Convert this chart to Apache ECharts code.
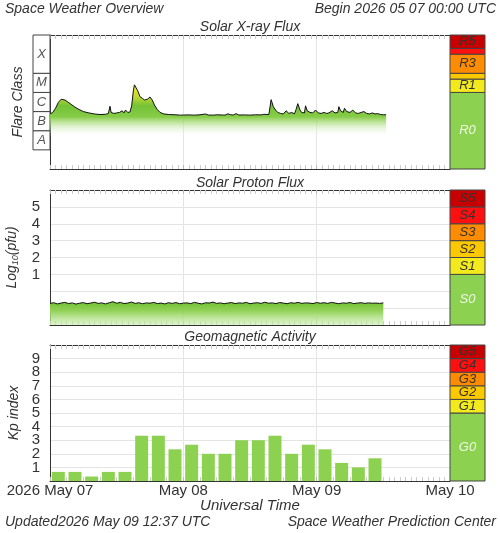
<!DOCTYPE html>
<html><head><meta charset="utf-8">
<script src="https://cdn.jsdelivr.net/npm/echarts@6/dist/echarts.min.js"></script>
<style>html,body{margin:0;background:#fff}#c{width:500px;height:533px}</style>
</head><body><div id="c"></div>
<script>
// ---- data ----
const dayLabels = ['2026 May 07','May 08','May 09','May 10'];
// GOES X-ray flux: hours since start, flux in units of 1e-7 W/m^2
const xrayHours = [0,0.5,1,1.5,2,2.3,2.7,3.2,3.8,4.5,5.2,6,7,8,9,10,10.5,10.8,11,11.5,12,12.5,13,13.3,13.6,14,14.4,14.7,15,15.2,15.5,15.8,16.2,16.6,17,17.3,17.6,18,18.4,18.8,19.3,19.8,20.5,21.5,22.5,23.5,24,25,26,27,28,28.5,29.5,30,31,31.5,32,32.5,33,33.5,34,35,36,37,38,38.5,39.4,39.8,40.2,40.6,41,41.5,42,42.5,43,43.5,44,44.3,44.6,45,45.3,45.8,46,46.3,46.8,47.3,47.8,48.3,48.8,49.3,49.8,50.2,50.8,51.3,51.8,52,52.3,52.8,53,53.4,54,54.5,55,55.5,56,56.5,57,57.5,58,58.5,59,59.5,60,60.5];
const xrayFlux = [7.5,9,15,30,44,46,40,32,24,17,13,10,8.5,7.5,7,7.2,8,19,9,8,8.5,9,11,8.5,12,9,9.5,20,120,250,230,120,60,50,40,38,45,58,40,22,13,9,7.5,7,6.8,6.5,6.6,6.7,6.5,6.8,7.5,6.6,6.5,6.8,6.6,6.5,7.6,6.9,6.6,7.8,6.6,6.7,6.5,6.8,6.7,7.2,7,42,18,12,9,8,7.5,11,8,9,7.6,13,26,12,9,8.5,20,11,9,8.5,12,8.5,8,9,8,8.5,11,8.5,9,18,11,9,15,10,9,12,8.5,8,9,10,8,7.5,8.5,7.5,7.8,7,6.8,6.8];
// Proton flux log10(pfu), every 40 min
const protonLog = [-0.72,-0.68,-0.75,-0.70,-0.66,-0.73,-0.69,-0.76,-0.71,-0.67,-0.74,-0.70,-0.65,-0.72,-0.69,-0.75,-0.68,-0.62,-0.71,-0.66,-0.73,-0.70,-0.64,-0.72,-0.68,-0.74,-0.69,-0.71,-0.66,-0.73,-0.70,-0.75,-0.68,-0.72,-0.67,-0.74,-0.70,-0.69,-0.73,-0.66,-0.71,-0.75,-0.68,-0.70,-0.64,-0.72,-0.69,-0.74,-0.70,-0.67,-0.73,-0.69,-0.71,-0.66,-0.74,-0.70,-0.68,-0.72,-0.65,-0.71,-0.69,-0.73,-0.67,-0.70,-0.74,-0.68,-0.71,-0.66,-0.72,-0.69,-0.70,-0.73,-0.67,-0.71,-0.68,-0.72,-0.66,-0.70,-0.74,-0.69,-0.71,-0.67,-0.73,-0.70,-0.68,-0.72,-0.69,-0.71,-0.70,-0.72,-0.69];
const protonStepHours = 40/60;
// Kp 3-hour values
const kpValues = [0.67,0.67,0.33,0.67,0.67,3.33,3.33,2.33,2.67,2,2,3,3,3.33,2,2.67,2.33,1.33,1,1.67];
// scale bands [low, high, label, color]
const flareBands = [[1e-8,1e-7,'A'],[1e-7,1e-6,'B'],[1e-6,1e-5,'C'],[1e-5,1e-4,'M'],[1e-4,1e-2,'X']];
const rBands = [[1e-9,1e-5,'R0','#8cd150'],[1e-5,5e-5,'R1','#f2ea1c'],[5e-5,1e-4,'','#fcc800'],[1e-4,1e-3,'R3','#ff8c00'],[1e-3,2e-3,'','#ff1010'],[2e-3,1e-2,'R5','#c80000']];
const xrayGridLines = [1e-5,5e-5,1e-4,1e-3,2e-3];
const sBands = [[-2,1,'S0','#8cd150'],[1,2,'S1','#f2ea1c'],[2,3,'S2','#fcc800'],[3,4,'S3','#ff8c00'],[4,5,'S4','#ff1010'],[5,6,'S5','#c80000']];
const gBands = [[0,5,'G0','#8cd150'],[5,6,'G1','#f2ea1c'],[6,7,'G2','#fcc800'],[7,8,'G3','#ff8c00'],[8,9,'G4','#ff1010'],[9,10,'G5','#c80000']];

// ---- build ----
const F = 'Liberation Sans, Arial, sans-serif';
const xray = xrayHours.map((h,i)=>[h, xrayFlux[i]*1e-7]);
const proton = protonLog.map((v,i)=>[i*protonStepHours, v]);
const kp = kpValues.map((v,i)=>[i*3+1.5, v]);

const panels = [{top:35,h:134},{top:190,h:135},{top:345,h:136}];
const grids = [];
const gb = {outerBoundsMode:'none',containLabel:false};
panels.forEach(p=>{
  grids.push(Object.assign({left:50,width:400,top:p.top,height:p.h},gb));
  grids.push(Object.assign({left:450,width:35,top:p.top,height:p.h},gb));
});
grids.push(Object.assign({left:33,width:17,top:35,height:134},gb));

const xAxes=[], yAxes=[];
function mainX(g, pos, labels){
  return {type:'value',gridIndex:g,position:pos,min:0,max:72,interval:24,
    axisLine:{show:true,onZero:false,lineStyle:{color:'#333'}},
    axisTick:{show:true,inside:true,length:4,lineStyle:{color:'#bbb'}},
    minorTick:{show:true,splitNumber:24,length:4,lineStyle:{color:'#ccc'}},
    splitLine:{show:pos==='bottom',lineStyle:{color:'#e4e4e4'}},
    axisLabel:labels?{show:true,fontFamily:F,fontSize:15,color:'#333',margin:2,
      formatter:v=>dayLabels[Math.round(v/24)]}:{show:false}};
}
function hiddenX(g){return {type:'value',gridIndex:g,min:0,max:1,show:false};}
[0,1,2].forEach(k=>{
  xAxes.push(mainX(2*k,'bottom',k===2));
  xAxes.push(mainX(2*k,'top',false));
  xAxes.push(hiddenX(2*k+1));
});
xAxes.push(hiddenX(6));

const yl = {color:'#333',fontFamily:F,fontSize:15};
yAxes.push({type:'log',gridIndex:0,min:1e-9,max:1e-2,axisLine:{show:true,lineStyle:{color:'#333'}},axisTick:{show:false},axisLabel:{show:false},splitLine:{show:false}});
yAxes.push({type:'log',gridIndex:1,min:1e-9,max:1e-2,show:false});
yAxes.push({type:'value',gridIndex:2,min:-2,max:6,interval:1,axisLine:{show:true,lineStyle:{color:'#333'}},axisTick:{show:false},
  axisLabel:Object.assign({formatter:v=>(v>=1&&v<=5)?String(v):'',margin:10},yl),
  splitLine:{lineStyle:{color:'#e4e4e4'}},
  name:'{a|Log}{s|10}{a|(pfu)}',nameLocation:'middle',nameGap:30,
  nameTextStyle:{rich:{a:{fontFamily:F,fontStyle:'italic',fontSize:14,color:'#333'},s:{fontFamily:F,fontStyle:'italic',fontSize:9,color:'#333',verticalAlign:'bottom',padding:[6,0,0,0]}}}});
yAxes.push({type:'value',gridIndex:3,min:-2,max:6,show:false});
yAxes.push({type:'value',gridIndex:4,min:0,max:10,interval:1,axisLine:{show:true,lineStyle:{color:'#333'}},axisTick:{show:false},
  axisLabel:Object.assign({formatter:v=>(v>=1&&v<=9)?String(v):'',margin:10},yl),
  splitLine:{lineStyle:{color:'#e4e4e4'}},
  name:'Kp index',nameLocation:'middle',nameGap:27,nameTextStyle:{fontFamily:F,fontStyle:'italic',fontSize:14,color:'#333'}});
yAxes.push({type:'value',gridIndex:5,min:0,max:10,show:false});
yAxes.push({type:'log',gridIndex:6,min:1e-9,max:1e-2,axisLine:{show:false},axisTick:{show:false},axisLabel:{show:false},splitLine:{show:false},
  name:'Flare Class',nameLocation:'middle',nameGap:8,nameTextStyle:{fontFamily:F,fontStyle:'italic',fontSize:14,color:'#333'}});

function bandSeries(xi, yi, bands, boxed){
  return {type:'custom',xAxisIndex:xi,yAxisIndex:yi,data:bands.map(b=>[b[0],b[1]]),silent:true,
    renderItem:(params,api)=>{
      const b = bands[params.dataIndex];
      const p1 = api.coord([0,b[0]]), p2 = api.coord([1,b[1]]);
      const r = {x:p1[0],y:p2[1],width:p2[0]-p1[0],height:p1[1]-p2[1]};
      const lab = b[2];
      const txtColor = boxed ? '#555' : (lab.endsWith('0') ? '#eef7e6' : '#333');
      return {type:'group',children:[
        {type:'rect',shape:r,style:{fill:boxed?'#fff':b[3],stroke:'#444',lineWidth:1}},
        {type:'text',style:{text:lab,x:r.x+r.width/2,y:r.y+r.height/2,align:'center',verticalAlign:'middle',
          fill:txtColor,font:'italic 13px '+F}}]};
    }};
}

const series = [
  {type:'line',xAxisIndex:0,yAxisIndex:0,data:xray,showSymbol:false,
    lineStyle:{color:'#111',width:1},
    areaStyle:{origin:'start',opacity:1,color:new echarts.graphic.LinearGradient(0,0,0,1,[
      {offset:0,color:'#f5e61a'},{offset:0.13,color:'#c8dc30'},{offset:0.25,color:'#74c236'},
      {offset:0.38,color:'#86cc48'},{offset:0.62,color:'rgba(255,255,255,0)'},{offset:1,color:'rgba(255,255,255,0)'}])},
    markLine:{silent:true,symbol:'none',label:{show:false},lineStyle:{color:'#e0e0e0',type:'solid',width:1},
      data:xrayGridLines.map(v=>({yAxis:v}))}},
  {type:'line',xAxisIndex:3,yAxisIndex:2,data:proton,showSymbol:false,
    lineStyle:{color:'#111',width:1},
    areaStyle:{origin:'start',opacity:1,color:new echarts.graphic.LinearGradient(0,0,0,1,[
      {offset:0,color:'#6fc030'},{offset:0.4,color:'#94d25a'},{offset:1,color:'rgba(200,236,170,0.6)'}])}},
  {type:'bar',xAxisIndex:6,yAxisIndex:4,data:kp,barWidth:13,itemStyle:{color:'#8cd150'}},
  bandSeries(2,1,rBands,false),
  bandSeries(5,3,sBands,false),
  bandSeries(8,5,gBands,false),
  bandSeries(9,6,flareBands,true)
];

const T = (text,x,y,align,size)=>({type:'text',x,y,style:{text,font:'italic '+(size||14)+'px '+F,fill:'#333',textAlign:align,textVerticalAlign:'middle'}});
const chart = echarts.init(document.getElementById('c'),null,{renderer:'canvas'});
chart.setOption({
  animation:false,backgroundColor:'#fff',
  grid:grids,xAxis:xAxes,yAxis:yAxes,series,
  graphic:[
    T('Space Weather Overview',5,9,'left'),
    T('Begin 2026 05 07 00:00 UTC',496,9,'right'),
    T('Solar X-ray Flux',250,27,'center'),
    T('Solar Proton Flux',250,183,'center'),
    T('Geomagnetic Activity',250,337,'center'),
    T('Universal Time',250,506,'center',15),
    T('Updated2026 May 09 12:37 UTC',5,522,'left'),
    T('Space Weather Prediction Center',496,522,'right')
  ]
});
</script></body></html>
